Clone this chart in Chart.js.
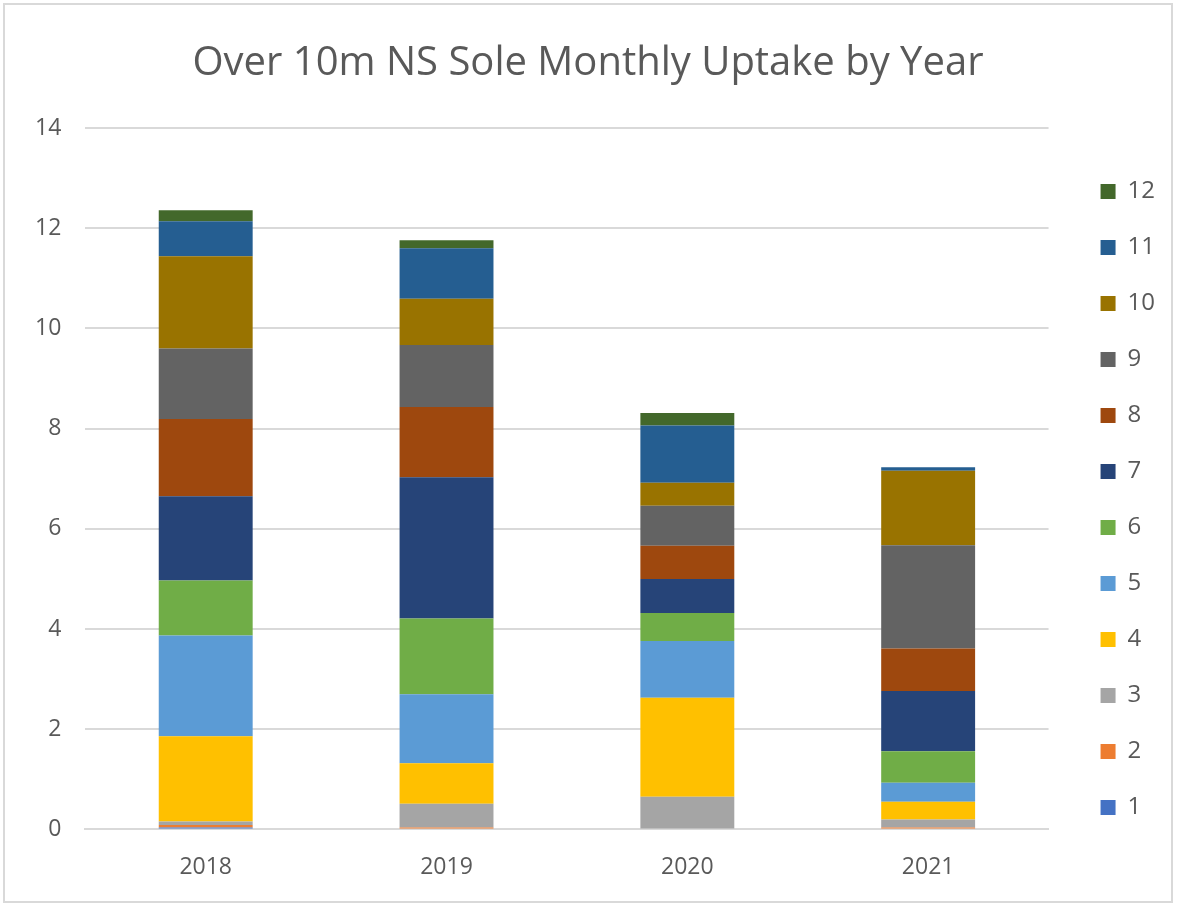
<!DOCTYPE html>
<html>
<head>
<meta charset="utf-8">
<script src="https://cdn.jsdelivr.net/npm/chart.js@4.4.0/dist/chart.umd.min.js"></script>
<style>
  html, body { margin: 0; padding: 0; background: #fff; }
  #wrap { width: 1178px; height: 904px; position: relative; }
  #frame { position: absolute; left: 3px; top: 3px; width: 1166px; height: 896px;
           border: 2px solid #d9d9d9; pointer-events: none; }
</style>
</head>
<body>
<div id="wrap"><canvas id="chart" width="1178" height="904"></canvas><div id="frame"></div></div>
<script>
// Years on the x axis
const years = ['2018', '2019', '2020', '2021'];

// Monthly uptake per year, month 1..12
const month1 = [0.04, 0, 0, 0];
const month2 = [0.05, 0.04, 0, 0.04];
const month3 = [0.07, 0.47, 0.65, 0.16];
const month4 = [1.70, 0.81, 1.98, 0.35];
const month5 = [2.01, 1.38, 1.13, 0.38];
const month6 = [1.10, 1.51, 0.56, 0.63];
const month7 = [1.68, 2.82, 0.68, 1.20];
const month8 = [1.54, 1.40, 0.66, 0.85];
const month9 = [1.41, 1.24, 0.80, 2.06];
const month10 = [1.84, 0.92, 0.46, 1.49];
const month11 = [0.70, 1.01, 1.14, 0.07];
const month12 = [0.22, 0.16, 0.25, 0];

const monthLabels = ['1', '2', '3', '4', '5', '6', '7', '8', '9', '10', '11', '12'];
const monthData = [month1, month2, month3, month4, month5, month6,
                   month7, month8, month9, month10, month11, month12];
const monthColors = ['#4472C4', '#ED7D31', '#A5A5A5', '#FFC000', '#5B9BD5', '#70AD47',
                     '#264478', '#9E480E', '#636363', '#997300', '#255E91', '#43682B'];

const textColor = '#595959';

const datasets = monthLabels.map((label, i) => ({
    label: label,
    data: monthData[i],
    backgroundColor: monthColors[i],
    borderWidth: 0,
    categoryPercentage: 1.0,
    barPercentage: 0.39
}));

new Chart(document.getElementById('chart'), {
    type: 'bar',
    data: { labels: years, datasets: datasets },
    options: {
        responsive: false,
        animation: false,
        layout: { padding: { left: 11, right: 13, top: 20, bottom: 7 } },
        plugins: {
            title: {
                display: true,
                text: 'Over 10m NS Sole Monthly Uptake by Year',
                color: textColor,
                font: { family: '"Open Sans", sans-serif', size: 40, weight: 'normal' },
                padding: { top: 20, bottom: 40 }
            },
            legend: {
                position: 'right',
                reverse: true,
                title: { display: true, text: ' ', font: { size: 10 }, padding: 35 },
                labels: {
                    color: textColor,
                    boxWidth: 15,
                    boxHeight: 15,
                    padding: 32,
                    font: { family: '"Open Sans", sans-serif', size: 24 }
                }
            },
            tooltip: { enabled: false }
        },
        scales: {
            x: {
                stacked: true,
                grid: { display: false },
                border: { color: '#d9d9d9', width: 2 },
                ticks: { color: textColor, padding: 16, font: { family: '"Open Sans", sans-serif', size: 23 } }
            },
            y: {
                stacked: true,
                min: 0,
                max: 14,
                ticks: { stepSize: 2, color: textColor, padding: 24, font: { family: '"Open Sans", sans-serif', size: 23 } },
                grid: { color: '#d9d9d9', lineWidth: 2, drawTicks: false },
                border: { display: false }
            },
            // empty axis on the right, only to keep a gap before the legend
            gap: {
                position: 'right',
                grid: { display: false },
                ticks: { display: false },
                border: { display: false },
                afterFit: (scale) => { scale.width = 20; }
            }
        }
    }
});
</script>
</body>
</html>
